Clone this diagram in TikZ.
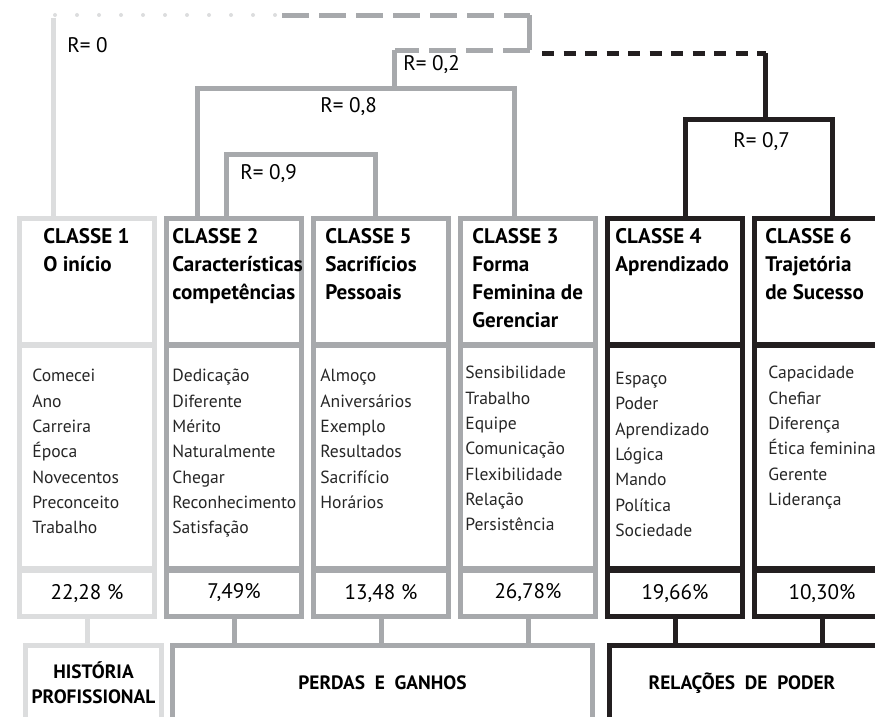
\documentclass[tikz,border=0pt]{standalone}
\usepackage{fontspec}
\setmainfont{PT Sans}
\usepackage{tikz,xcolor}
\definecolor{paleline}{RGB}{220,221,222}
\definecolor{greyline}{RGB}{167,169,172}
\definecolor{inkline}{RGB}{35,31,32}
\tikzset{
  paleframe/.style={draw=paleline,line width=1mm},
  greyframe/.style={draw=greyline,line width=1mm},
  inkframe/.style={draw=inkline,line width=1mm},
  divider/.style={line width=1.3mm},
  headtext/.style={anchor=north west,inner sep=0pt,align=left,
    font=\fontsize{12}{15.9}\selectfont\bfseries},
  itemtext/.style={anchor=north west,inner sep=0pt,align=left,text=black!85,
    font=\fontsize{10}{14.4}\selectfont},
  pcttext/.style={inner sep=0pt,font=\fontsize{12}{14}\selectfont},
  rtext/.style={anchor=west,inner sep=0pt,font=\fontsize{12}{14}\selectfont},
  grouptext/.style={inner sep=0pt,align=center,
    font=\fontsize{11}{14.2}\selectfont\bfseries},
}

\begin{document}
\begin{tikzpicture}
  \useasboundingbox (0,0) rectangle (17.5,-14.32);
  \clip (0,0) rectangle (17.5,-14.32);
  % Classe 1
  \begin{scope}[xshift=0.39cm]
    \draw[paleframe] (0,-4.37) rectangle (2.7,-12.33);
    \draw[paleframe,divider] (0,-6.9) -- (2.7,-6.9);
    \draw[paleframe,divider] (0,-11.39) -- (2.7,-11.39);
    \coordinate (c1bot) at (1.35,-12.33);
    \node[headtext] (c1head) at (0.47,-4.56) {CLASSE 1\\O início};
    \node[itemtext] (c1items) at (0.25,-7.38)
      {Comecei\\Ano\\Carreira\\Época\\Novecentos\\Preconceito\\Trabalho};
    \node[pcttext] (c1pct) at (1.35,-11.87) {22,28 \%};
  \end{scope}
  % Classe 2
  \begin{scope}[xshift=3.33cm]
    \draw[greyframe] (0,-4.37) rectangle (2.7,-12.33);
    \draw[greyframe,divider] (0,-6.9) -- (2.7,-6.9);
    \draw[greyframe,divider] (0,-11.39) -- (2.7,-11.39);
    \coordinate (c2bot) at (1.35,-12.33);
    \node[headtext] (c2head) at (0.11,-4.56) {CLASSE 2\\Características\\competências};
    \node[itemtext] (c2items) at (0.11,-7.38)
      {Dedicação\\Diferente\\Mérito\\Naturalmente\\Chegar\\Reconhecimento\\Satisfação};
    \node[pcttext] (c2pct) at (1.35,-11.85) {7,49\%};
  \end{scope}
  % Classe 5
  \begin{scope}[xshift=6.27cm]
    \draw[greyframe] (0,-4.37) rectangle (2.7,-12.33);
    \draw[greyframe,divider] (0,-6.9) -- (2.7,-6.9);
    \draw[greyframe,divider] (0,-11.39) -- (2.7,-11.39);
    \coordinate (c5bot) at (1.35,-12.33);
    \node[headtext] (c5head) at (0.23,-4.56) {CLASSE 5\\Sacrifícios\\Pessoais};
    \node[itemtext] (c5items) at (0.13,-7.38)
      {Almoço\\Aniversários\\Exemplo\\Resultados\\Sacrifício\\Horários};
    \node[pcttext] (c5pct) at (1.35,-11.87) {13,48 \%};
  \end{scope}
  % Classe 3
  \begin{scope}[xshift=9.21cm]
    \draw[greyframe] (0,-4.37) rectangle (2.7,-12.33);
    \draw[greyframe,divider] (0,-6.9) -- (2.7,-6.9);
    \draw[greyframe,divider] (0,-11.39) -- (2.7,-11.39);
    \coordinate (c3bot) at (1.35,-12.33);
    \node[headtext] (c3head) at (0.23,-4.56) {CLASSE 3\\Forma\\Feminina de\\Gerenciar};
    \node[itemtext] (c3items) at (0.09,-7.32)
      {Sensibilidade\\Trabalho\\Equipe\\Comunicação\\Flexibilidade\\Relação\\Persistência};
    \node[pcttext] (c3pct) at (1.35,-11.85) {26,78\%};
  \end{scope}
  % Classe 4
  \begin{scope}[xshift=12.15cm]
    \draw[inkframe] (0,-4.37) rectangle (2.7,-12.33);
    \draw[inkframe,divider] (0,-6.9) -- (2.7,-6.9);
    \draw[inkframe,divider] (0,-11.39) -- (2.7,-11.39);
    \coordinate (c4bot) at (1.35,-12.33);
    \node[headtext] (c4head) at (0.15,-4.56) {CLASSE 4\\Aprendizado};
    \node[itemtext] (c4items) at (0.15,-7.44)
      {Espaço\\Poder\\Aprendizado\\Lógica\\Mando\\Política\\Sociedade};
    \node[pcttext] (c4pct) at (1.35,-11.87) {19,66\%};
  \end{scope}
  % Classe 6
  \begin{scope}[xshift=15.09cm]
    \draw[inkframe] (0,-4.37) rectangle (2.7,-12.33);
    \draw[inkframe,divider] (0,-6.9) -- (2.7,-6.9);
    \draw[inkframe,divider] (0,-11.39) -- (2.7,-11.39);
    \coordinate (c6bot) at (1.35,-12.33);
    \node[headtext] (c6head) at (0.21,-4.56) {CLASSE 6\\Trajetória\\de Sucesso};
    \node[itemtext] (c6items) at (0.27,-7.32)
      {Capacidade\\Chefiar\\Diferença\\Ética feminina\\Gerente\\Liderança};
    \node[pcttext] (c6pct) at (1.35,-11.87) {10,30\%};
  \end{scope}
  % Dendrogram
  \draw[paleframe] (1.07,-0.36) -- (1.07,-4.37);
  \draw[paleline,line width=0.8mm,line cap=round,dash pattern=on 0pt off 0.44cm]
    (1.1,-0.3) -- (5.52,-0.3);
  \draw[greyframe,dash pattern=on 0.54cm off 0.2cm] (5.64,-0.31) -- (10.59,-0.31);
  \draw[greyframe] (10.59,-0.31) -- (10.59,-1.01);
  \draw[greyframe,dash pattern=on 0.54cm off 0.2cm] (10.59,-1.01) -- (7.89,-1.01);
  \draw[greyframe] (7.89,-1.01) -- (7.89,-1.77);
  \draw[greyframe] (3.95,-4.37) |- (10.29,-1.77) -- (10.29,-4.37);
  \draw[greyframe] (4.53,-4.37) |- (7.51,-3.09) -- (7.51,-4.37);
  \draw[inkframe,dash pattern=on 0.24cm off 0.19cm] (10.84,-1.07) -- (15.31,-1.07);
  \draw[inkframe] (15.31,-1.07) -- (15.31,-2.39);
  \draw[inkframe] (13.71,-4.37) |- (16.65,-2.39) -- (16.65,-4.37);
  \node[rtext] (r0) at (1.34,-0.9) {R= 0};
  \node[rtext] (r02) at (8.06,-1.3) {R= 0,2};
  \node[rtext] (r08) at (6.4,-2.14) {R= 0,8};
  \node[rtext] (r09) at (4.8,-3.48) {R= 0,9};
  \node[rtext] (r07) at (14.66,-2.84) {R= 0,7};
  % Groups
  \draw[paleframe] (0.51,-14.6) |- (3.23,-12.91) -- (3.23,-14.6);
  \draw[greyframe] (3.45,-14.6) |- (11.85,-12.91) -- (11.85,-14.6);
  \draw[inkframe] (12.18,-14.6) |- (17.8,-12.91) -- (17.8,-14.6);
  \coordinate (histtop) at (1.87,-12.91);
  \coordinate (perdtop) at (7.65,-12.91);
  \coordinate (podertop) at (14.99,-12.91);
  \node[grouptext] (hist) at (1.87,-13.65) {HISTÓRIA\\PROFISSIONAL};
  \node[grouptext] (perd) at (7.65,-13.66) {PERDAS\ \ E\ \ GANHOS};
  \node[grouptext] (poder) at (14.84,-13.66) {RELAÇÕES\ \ DE\ \ PODER};
  \draw[paleframe] (c1bot) -- (c1bot |- histtop);
  \draw[greyframe] (c2bot) -- (c2bot |- perdtop);
  \draw[greyframe] (c5bot) -- (c5bot |- perdtop);
  \draw[greyframe] (c3bot) -- (c3bot |- perdtop);
  \draw[inkframe] (c4bot) -- (c4bot |- podertop);
  \draw[inkframe] (c6bot) -- (c6bot |- podertop);
\end{tikzpicture}
\end{document}
